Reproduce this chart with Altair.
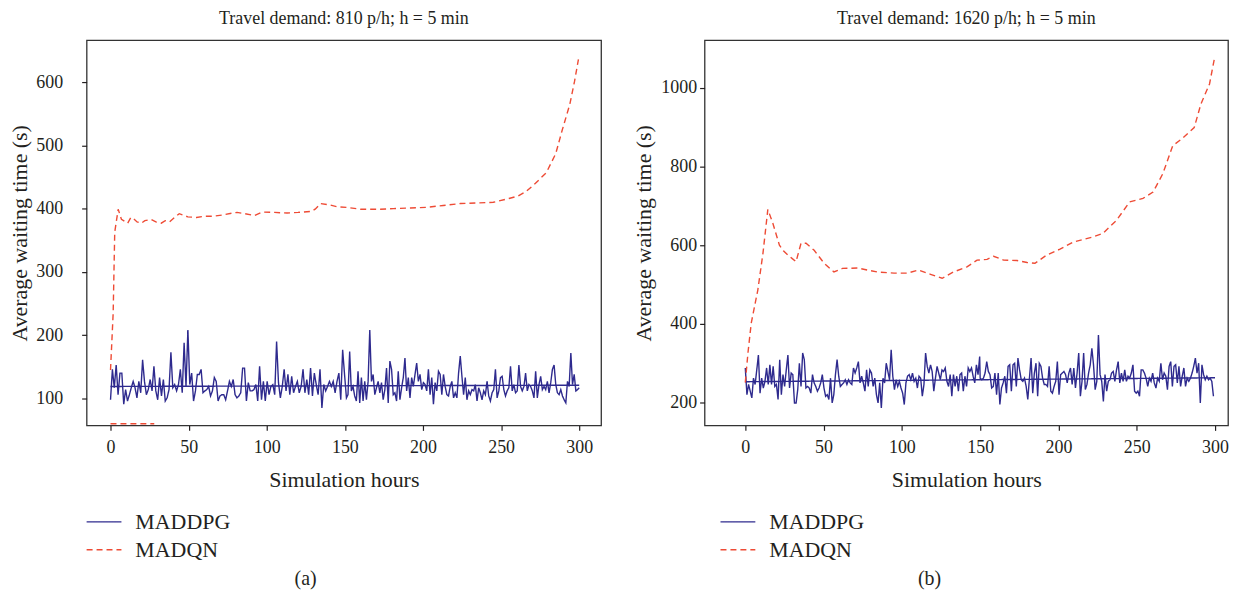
import altair as alt
import numpy as np
import pandas as pd

FONT = "Liberation Serif"
BLUE = "#2e2a8e"
RED = "#ee4b35"
TEXT = "#231f20"
NAMES = ["MADDPG", "MADQN"]

# ---------------- panel (a): 810 p/h ----------------
a_maddpg_1 = [98, 146, 117, 153, 106, 140, 140, 91, 114, 96, 106, 117, 127, 117, 101, 127, 109, 161,
              127, 106, 114, 130, 112, 151, 112, 98, 133, 104, 130, 96, 101, 114, 173, 117, 122, 112,
              122, 146, 109, 188, 119, 208, 122, 140, 96, 112, 138, 138, 146, 109, 112, 114, 119, 104,
              112, 133, 127, 96, 104, 106, 106, 98, 112, 127, 119, 130, 106, 101, 104, 109, 148, 148,
              96, 125, 112, 112, 114, 122, 96, 151, 98, 127, 96, 127, 106, 119, 122, 106, 190, 125,
              101, 119, 146, 112, 138, 106, 135, 109, 119, 127, 109, 119, 146, 109, 130, 106, 148, 104,
              140, 122, 106, 146, 85, 122, 112, 119, 127, 119, 127, 109, 127, 140, 98, 177, 138, 101]
a_maddpg_2 = [106, 174, 112, 119, 104, 96, 143, 93, 133, 96, 127, 98, 127, 208, 127, 138, 106, 117,
              127, 109, 125, 98, 114, 148, 93, 159, 146, 106, 109, 96, 143, 98, 117, 133, 164, 112,
              133, 101, 133, 119, 138, 156, 127, 138, 114, 125, 122, 112, 146, 106, 133, 91, 125, 112,
              143, 138, 106, 138, 119, 106, 104, 119, 127, 101, 109, 101, 140, 167, 135, 106, 133, 98,
              112, 106, 114, 112, 122, 96, 117, 109, 98, 112, 106, 127, 104, 96, 109, 114, 146, 101,
              112, 133, 135, 114, 104, 112, 117, 151, 112, 122, 109, 112, 153, 119, 112, 119, 140, 112,
              122, 119, 112, 101, 143, 101, 122, 135, 114, 119, 114, 127, 109, 125, 146, 153, 122, 109,
              106, 114, 104, 98, 93, 127, 119, 172, 122, 138, 112, 114, 117]
a_maddpg_1_span = [0, 151]
a_maddpg_2_span = [152, 300]
a_fit_hours = [0, 300]
a_fit_values = [119, 121]
a_madqn_hours = [0, 1.7, 2.7, 4.9, 7, 9, 11, 13, 14.4, 17, 19.7, 22, 26, 29, 32.5, 35, 37.8, 41, 44,
                 49.5, 55, 60, 66, 72, 78, 81, 86, 92, 97, 105, 113, 120, 128, 131, 134.4, 140, 145,
                 151, 160, 172.6, 181, 192, 202, 213, 224, 235, 245, 255, 261, 266, 272, 279, 285,
                 289, 294, 297, 299.5]
a_madqn_values = [145, 235, 363, 399, 383, 380, 377, 386, 385, 379, 377, 381, 383, 379, 377, 381, 379,
                  386, 392, 387, 386, 388, 388, 390, 393, 394, 392, 389, 394.5, 394, 393, 394, 395.6,
                  399, 408, 406, 403, 402, 399, 399, 400, 401, 402, 405, 408, 409, 410, 416, 420, 427,
                  440, 457, 487, 523, 565, 601, 636]
a_floor_hours = [0, 28]
a_floor_values = [60, 60]

# ---------------- panel (b): 1620 p/h ----------------
b_maddpg_1 = [288, 220, 246, 229, 212, 262, 246, 283, 321, 224, 262, 237, 254, 288, 246, 296, 246,
              292, 241, 246, 208, 309, 220, 271, 241, 283, 321, 237, 275, 271, 199, 199, 233, 300,
              241, 326, 309, 237, 241, 237, 224, 271, 250, 241, 229, 237, 250, 271, 237, 216, 220,
              208, 262, 199, 220, 271, 309, 267, 241, 246, 250, 258, 246, 258, 250, 246, 288, 275,
              288, 304, 250, 267, 250, 229, 283, 241, 283, 275, 241, 262, 220, 199, 250, 186, 262,
              250, 300, 279, 258, 334, 267, 233, 258, 241, 254, 237, 224, 195, 250, 267, 271, 258,
              275, 254, 262, 237, 267, 262, 216, 246, 326, 292, 275, 296, 279, 229, 262, 292, 275,
              258, 283, 279, 288, 254, 241, 271, 216, 271, 241, 267, 229, 271, 275, 229, 267, 241,
              288, 279, 288, 267, 250, 296, 271, 317]
b_maddpg_2 = [262, 258, 262, 275, 304, 279, 271, 237, 241, 275, 220, 275, 195, 237, 250, 267, 224,
              292, 296, 229, 296, 300, 241, 313, 283, 258, 254, 262, 241, 208, 262, 313, 224, 275,
              300, 216, 300, 292, 262, 246, 246, 241, 292, 229, 224, 241, 254, 304, 220, 271, 275,
              279, 271, 250, 275, 288, 246, 288, 237, 275, 326, 216, 254, 326, 233, 246, 275, 296,
              338, 296, 233, 254, 372, 271, 254, 203, 271, 229, 254, 258, 275, 279, 254, 283, 304,
              250, 275, 254, 283, 254, 267, 262, 275, 296, 229, 224, 229, 216, 283, 283, 275, 262,
              241, 262, 254, 275, 250, 237, 262, 254, 300, 258, 275, 267, 233, 292, 304, 241, 292,
              296, 250, 292, 241, 267, 288, 241, 262, 254, 262, 275, 292, 313, 275, 300, 199, 296,
              271, 258, 267, 258, 262, 254, 216]
b_maddpg_1_span = [0, 149.7]
b_maddpg_2_span = [150, 299]
b_fit_hours = [0, 300]
b_fit_values = [253, 263]
b_madqn_hours = [0, 1.7, 3.8, 8, 11.3, 14.4, 17.6, 21.8, 24.5, 27.2, 30, 32.4, 35.6, 38.8, 44, 50.4,
                 56.6, 62, 71.7, 78, 84.4, 95, 103.5, 110.7, 118.3, 125.7, 133, 141.6, 148, 154.4,
                 158.6, 165, 173.5, 180, 185, 192.5, 201, 209.5, 222, 228.4, 237, 245.5, 254, 260.4,
                 266.7, 273, 279, 286.7, 291, 296.5, 299.5]
b_madqn_values = [251, 326, 402, 486, 580, 691, 656, 600, 585, 575, 566, 558, 605, 605, 587, 554, 532,
                  541, 542, 537, 532, 529, 529, 537, 526, 516, 532, 545, 562, 564, 572, 562, 561, 556,
                  554, 575, 590, 608, 621, 630, 663, 710, 719, 735, 782, 853, 871, 899, 959, 1010,
                  1072]

x_ticks = [0, 50, 100, 150, 200, 250, 300]


def panel_frame(m1, span1, m2, span2, fit_h, fit_v, q_h, q_v, floor_h=None, floor_v=None):
    parts = [
        pd.DataFrame({"hours": np.linspace(span1[0], span1[1], len(m1)), "value": m1,
                      "series": "MADDPG", "part": "main"}),
        pd.DataFrame({"hours": np.linspace(span2[0], span2[1], len(m2)), "value": m2,
                      "series": "MADDPG", "part": "main"}),
        pd.DataFrame({"hours": fit_h, "value": fit_v, "series": "MADDPG", "part": "fit"}),
        pd.DataFrame({"hours": q_h, "value": q_v, "series": "MADQN", "part": "q"}),
    ]
    if floor_h is not None:
        parts.append(pd.DataFrame({"hours": floor_h, "value": floor_v, "series": "MADQN", "part": "floor"}))
    return pd.concat(parts, ignore_index=True)


color_scale = alt.Scale(domain=NAMES, range=[BLUE, RED])
dash_scale = alt.Scale(domain=NAMES, range=[[1, 0], [6, 4]])


def build_panel(df, title, xdomain, ydomain, yticks, width, legend_x, caption, caption_x,
                y_label_pad, y_title_pad):
    lines = alt.Chart(df).mark_line(strokeWidth=1.4).encode(
        x=alt.X("hours:Q", scale=alt.Scale(domain=xdomain, nice=False, zero=False),
                axis=alt.Axis(values=x_ticks, title="Simulation hours", format="d",
                              labelPadding=8, titlePadding=13)),
        y=alt.Y("value:Q", scale=alt.Scale(domain=ydomain, nice=False, zero=False),
                axis=alt.Axis(values=yticks, title="Average waiting time (s)", format="d",
                              labelPadding=y_label_pad, titlePadding=y_title_pad)),
        color=alt.Color("series:N", scale=color_scale, legend=None),
        strokeDash=alt.StrokeDash("series:N", scale=dash_scale, legend=None),
        detail="part:N",
    )
    leg = pd.DataFrame({"series": NAMES})
    leg_scale = alt.Scale(type="point", domain=NAMES, range=[484, 512], padding=0)
    rules = alt.Chart(leg).mark_rule(strokeWidth=1.4).encode(
        x=alt.value(legend_x), x2=alt.value(legend_x + 35),
        y=alt.Y("series:N", scale=leg_scale, axis=None),
        color=alt.Color("series:N", scale=color_scale, legend=None),
        strokeDash=alt.StrokeDash("series:N", scale=dash_scale, legend=None),
    )
    texts = alt.Chart(leg).mark_text(align="left", baseline="middle", font=FONT, fontSize=22,
                                     color=TEXT).encode(
        x=alt.value(legend_x + 49),
        y=alt.Y("series:N", scale=leg_scale, axis=None),
        text="series:N",
    )
    cap = alt.Chart(pd.DataFrame({"c": [caption]})).mark_text(
        align="center", baseline="middle", font=FONT, fontSize=20, color=TEXT).encode(
        x=alt.value(caption_x), y=alt.value(541), text="c:N")
    return alt.layer(lines, rules, texts, cap).resolve_scale(y="independent").properties(
        width=width, height=387,
        title=alt.Title(title, font=FONT, fontSize=18, fontWeight="normal", color=TEXT, offset=12),
    )


df_a = panel_frame(a_maddpg_1, a_maddpg_1_span, a_maddpg_2, a_maddpg_2_span, a_fit_hours, a_fit_values,
                   a_madqn_hours, a_madqn_values, a_floor_hours, a_floor_values)
df_b = panel_frame(b_maddpg_1, b_maddpg_1_span, b_maddpg_2, b_maddpg_2_span, b_fit_hours, b_fit_values,
                   b_madqn_hours, b_madqn_values)

left = build_panel(df_a, "Travel demand: 810 p/h; h = 5 min", [-15.3, 314], [57.5, 666],
                   [100, 200, 300, 400, 500, 600], 517, 0, "(a)", 220, 19, 4)
right = build_panel(df_b, "Travel demand: 1620 p/h; h = 5 min", [-26, 308.3], [142, 1121],
                    [200, 400, 600, 800, 1000], 526, 16, "(b)", 226, 3, 5)

chart = alt.hconcat(left, right, spacing=30).configure_view(
    stroke="#333333", strokeWidth=1.3
).configure_axis(
    domain=False, grid=False, tickColor=TEXT, tickSize=5, tickWidth=1.2,
    labelFont=FONT, labelFontSize=18, labelColor=TEXT,
    titleFont=FONT, titleFontSize=22, titleFontWeight="normal", titleColor=TEXT,
).properties(
    padding={"left": 0, "right": 0, "top": 0, "bottom": 0}
)

chart.save("out.html", embed_options={"renderer": "svg", "actions": False})
